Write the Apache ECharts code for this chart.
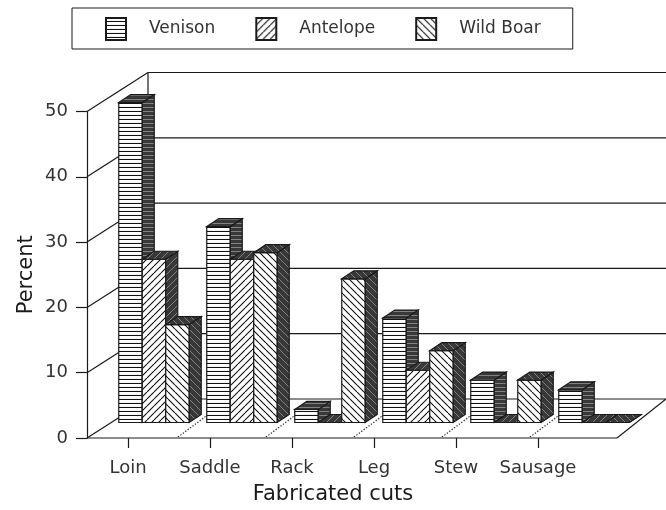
<!DOCTYPE html>
<html><head><meta charset="utf-8">
<script src="https://cdn.jsdelivr.net/npm/echarts@6/dist/echarts.min.js"></script>
<style>html,body{margin:0;padding:0;background:#fff}#c{width:666px;height:510px}</style>
</head><body><div id="c"></div>
<script>
// ---- data ----
const categories = ['Loin', 'Saddle', 'Rack', 'Leg', 'Stew', 'Sausage'];
const seriesNames = ['Venison', 'Antelope', 'Wild Boar'];
const venison  = [49, 30, 2, 16, 6.5, 5];
const antelope = [25, 25, 0, 8, 0, 0];
const wildBoar = [15, 26, 22, 11, 6.5, 0];
const yTicks = [0, 10, 20, 30, 40, 50];
const boundaries = [1, 2, 3, 4, 5];

// ---- style constants ----
const WALL_DX = 61, WALL_DY = -39;     // depth of the floor / back wall
const SIDE_DX = 12, SIDE_DY = -8;      // bar thickness
const INK = '#1a1a1a';
const TXT = '#333333';
const FONT = 'DejaVu Sans';

function makePattern(kind, dark) {
  const s = kind === 'h' ? 4 : 7;
  const c = document.createElement('canvas');
  c.width = s; c.height = s;
  const g = c.getContext('2d');
  g.fillStyle = dark ? '#383838' : '#ffffff';
  g.fillRect(0, 0, s, s);
  g.strokeStyle = dark ? '#8a8a8a' : '#111111';
  g.lineWidth = dark ? 0.9 : 1.1;
  g.beginPath();
  if (kind === 'h') {
    g.moveTo(0, s - 0.5); g.lineTo(s, s - 0.5);
  } else if (kind === 'f') {
    for (let o = -s; o <= s; o += s) { g.moveTo(o, s); g.lineTo(o + s, 0); }
  } else {
    for (let o = -s; o <= s; o += s) { g.moveTo(o, 0); g.lineTo(o + s, s); }
  }
  g.stroke();
  return { image: c, repeat: 'repeat' };
}
const kinds = ['h', 'f', 'b'];
const frontPat = kinds.map(k => makePattern(k, false));
const sidePat = kinds.map(k => makePattern(k, true));
const topPat = kinds.map(k => makePattern(k, true));

const allValues = [venison, antelope, wildBoar];
const barData = [];
categories.forEach((c, ci) => {
  allValues.forEach((arr, k) => barData.push([ci, k, arr[ci]]));
});

const chart = echarts.init(document.getElementById('c'), null, { renderer: 'canvas' });

const option = {
  animation: false,
  backgroundColor: '#fff',
  legend: {
    data: seriesNames,
    left: 72, top: 8,
    padding: [9, 32, 8, 33],
    itemGap: 40,
    itemWidth: 20, itemHeight: 22,
    icon: 'rect',
    borderColor: INK, borderWidth: 1,
    textStyle: { fontFamily: FONT, fontSize: 17, color: TXT, padding: [0, 0, 0, 18] },
    selectedMode: false
  },
  grid: [
    // front plane (axes)
    { left: 87, right: 87, top: 111.5, bottom: 72 },
    // plane in which the bar fronts stand (further back in depth)
    { left: 110, right: 28, top: 96, bottom: 87.5 }
  ],
  xAxis: [{
    type: 'category', gridIndex: 0,
    data: categories,
    axisLine: { show: false },
    axisTick: { show: true, alignWithLabel: true, length: 10, lineStyle: { color: INK, width: 1.2 } },
    axisLabel: { fontFamily: FONT, fontSize: 18, color: TXT, margin: 21, interval: 0, hideOverlap: false },
    name: 'Fabricated cuts',
    nameLocation: 'middle',
    nameGap: 46,
    nameMoveOverlap: false,
    nameTextStyle: { fontFamily: FONT, fontSize: 21, color: '#1a1a1a' },
    splitLine: { show: false }
  }, {
    type: 'category', gridIndex: 1, data: categories, show: false
  }],
  yAxis: [{
    type: 'value', gridIndex: 0,
    min: 0, max: 50, interval: 10,
    axisLine: { show: true, lineStyle: { color: INK, width: 1.2 } },
    axisTick: { show: true, length: 11, lineStyle: { color: INK, width: 1.2 } },
    axisLabel: { fontFamily: FONT, fontSize: 18, color: TXT, margin: 19 },
    splitLine: { show: false },
    name: 'Percent',
    nameLocation: 'middle',
    nameGap: 50,
    nameMoveOverlap: false,
    nameTextStyle: { fontFamily: FONT, fontSize: 21, color: '#1a1a1a' }
  }, {
    type: 'value', gridIndex: 1, min: 0, max: 50, interval: 10, show: false
  }],
  series: [
    // walls, floor and grid lines
    {
      type: 'custom', name: 'frame', z: 1, silent: true,
      xAxisIndex: 0, yAxisIndex: 0,
      data: yTicks.map(v => [0, v]),
      encode: { x: 0, y: 1 },
      renderItem(params, api) {
        const cs = params.coordSys;
        const v = api.value(1);
        const y = api.coord([0, v])[1];
        const xL = cs.x;
        const W = api.getWidth();
        const ls = { stroke: INK, lineWidth: 1.2, fill: null };
        const ch = [
          { type: 'line', shape: { x1: xL, y1: y, x2: xL + WALL_DX, y2: y + WALL_DY }, style: ls },
          { type: 'line', shape: { x1: xL + WALL_DX, y1: y + WALL_DY, x2: W, y2: y + WALL_DY }, style: ls }
        ];
        if (v === 0) {
          const yTop = api.coord([0, 50])[1];
          const xR = cs.x + cs.width + 38;
          ch.push({ type: 'line', shape: { x1: xL + WALL_DX, y1: y + WALL_DY, x2: xL + WALL_DX, y2: yTop + WALL_DY }, style: ls });
          ch.push({ type: 'line', shape: { x1: xL, y1: y, x2: xR, y2: y }, style: ls });
          ch.push({ type: 'line', shape: { x1: xR, y1: y, x2: xR + 49, y2: y + WALL_DY }, style: ls });
        }
        return { type: 'group', children: ch };
      }
    },
    // dotted separators on the floor (through the bar-plane group boundaries)
    {
      type: 'custom', name: 'separators', z: 1, silent: true,
      xAxisIndex: 1, yAxisIndex: 1,
      data: boundaries.map(b => [b, 0]),
      encode: { x: 0, y: 1 },
      renderItem(params, api) {
        const band = api.size([1, 0])[0];
        const p = api.coord([api.value(0), 0]);
        const xb = p[0] - band / 2, yb = p[1];
        return {
          type: 'line',
          shape: { x1: xb - 20, y1: yb + 14.5, x2: xb + 9, y2: yb - 7 },
          style: { stroke: '#333', lineWidth: 1.3, lineDash: [1.3, 1.7] }
        };
      }
    },
    // the 3D bars
    {
      type: 'custom', name: 'bars', z: 3, silent: true,
      xAxisIndex: 1, yAxisIndex: 1,
      data: barData,
      encode: { x: 0, y: 2 },
      renderItem(params, api) {
        const ci = api.value(0), k = api.value(1), v = api.value(2);
        const p0 = api.coord([ci, 0]);
        const p1 = api.coord([ci, v]);
        const band = api.size([1, 0])[0];
        const w = band * 0.267;
        const x = p0[0] - 1.5 * w + k * w;
        const yb = p0[1];
        const yt = p1[1];
        const edge = { stroke: INK, lineWidth: 1.2, lineJoin: 'miter' };
        return {
          type: 'group',
          children: [
            { type: 'rect', shape: { x: x, y: yt, width: w, height: yb - yt },
              style: Object.assign({ fill: frontPat[k] }, edge) },
            { type: 'polygon', shape: { points: [[x + w, yt], [x + w + SIDE_DX, yt + SIDE_DY], [x + w + SIDE_DX, yb + SIDE_DY], [x + w, yb]] },
              style: Object.assign({ fill: sidePat[k] }, edge) },
            { type: 'polygon', shape: { points: [[x, yt], [x + SIDE_DX, yt + SIDE_DY], [x + w + SIDE_DX, yt + SIDE_DY], [x + w, yt]] },
              style: Object.assign({ fill: topPat[k] }, edge) }
          ]
        };
      }
    },
    // legend entries
    ...seriesNames.map((n, k) => ({
      type: 'bar', name: n, data: [], xAxisIndex: 0, yAxisIndex: 0,
      itemStyle: { color: frontPat[k], borderColor: INK, borderWidth: 1.2 }
    }))
  ]
};
chart.setOption(option);
</script>
</body></html>
